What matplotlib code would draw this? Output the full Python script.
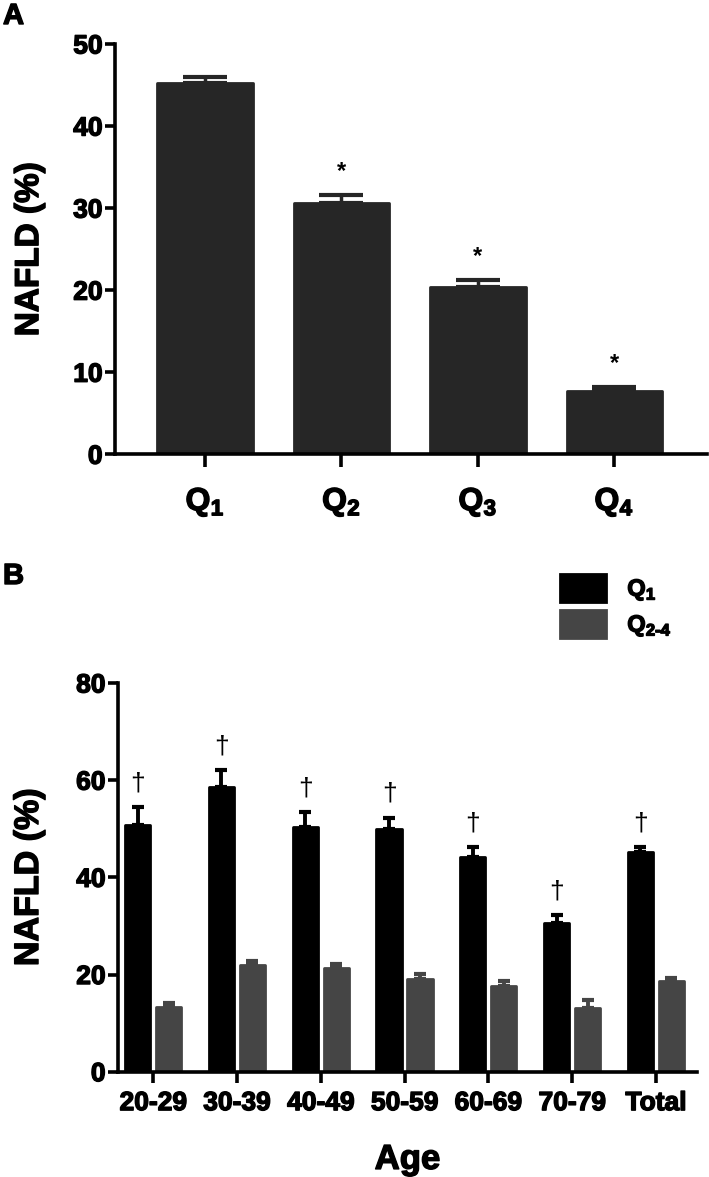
import numpy as np
import matplotlib
matplotlib.use('Agg')
import matplotlib.pyplot as plt
import matplotlib.patheffects as pe

plt.rcParams['font.family'] = ['Liberation Sans', 'DejaVu Sans']
plt.rcParams['font.weight'] = 'bold'
plt.rcParams['mathtext.fontset'] = 'custom'
plt.rcParams['mathtext.rm'] = 'Liberation Sans:bold'
plt.rcParams['mathtext.it'] = 'Liberation Sans:bold'
plt.rcParams['mathtext.bf'] = 'Liberation Sans:bold'

# panel A data
quart_labels = ['Q$_1$', 'Q$_2$', 'Q$_3$', 'Q$_4$']
quart_vals = [45.2, 30.6, 20.4, 7.75]
quart_err = [0.8, 1.0, 0.8, 0.4]
quart_sig = ['', '*', '*', '*']

# panel B data
age_groups = ['20-29', '30-39', '40-49', '50-59', '60-69', '70-79', 'Total']
q1_vals = [50.8, 58.6, 50.3, 49.9, 44.2, 30.7, 45.3]
q1_err = [3.7, 3.5, 3.2, 2.4, 2.0, 1.5, 1.0]
q24_vals = [13.4, 22.0, 21.3, 19.1, 17.6, 13.2, 18.7]
q24_err = [0.8, 0.8, 0.9, 1.0, 1.1, 1.5, 0.5]

fig = plt.figure(figsize=(7.09, 11.77), dpi=100)
heavy = [pe.withStroke(linewidth=1.0, foreground='black')]

def style_axes(ax):
    for s in ['top', 'right']:
        ax.spines[s].set_visible(False)
    for s in ['left', 'bottom']:
        ax.spines[s].set_linewidth(2.6)
    ax.tick_params(axis='both', width=2.6, direction='out')
    ax.tick_params(axis='y', length=7, pad=2, labelsize=19)

def thicken(ax):
    for t in ax.get_xticklabels() + ax.get_yticklabels():
        t.set_path_effects(heavy)
    ax.yaxis.label.set_path_effects(heavy)
    ax.xaxis.label.set_path_effects(heavy)

# ---- A ----
axA = fig.add_axes([115/709, 1-454.3/1177, (707-115)/709, (454.3-44)/1177])
x = np.arange(len(quart_vals))
axA.bar(x, quart_vals, width=0.70, color='#262626', edgecolor='#262626',
        linewidth=2, joinstyle='round', zorder=2)
axA.errorbar(x, quart_vals, yerr=[np.zeros(4), quart_err], fmt='none',
             ecolor='#262626', elinewidth=2.5, capsize=16, capthick=3, zorder=1)
for xi, v, e, s in zip(x, quart_vals, quart_err, quart_sig):
    if s:
        axA.annotate(s, (xi, v + e), xytext=(0, 17), textcoords='offset points',
                     ha='center', va='center', fontsize=17)
axA.set_xlim(-0.66, 3.68)
axA.set_ylim(0, 50)
axA.set_yticks([0, 10, 20, 30, 40, 50])
axA.set_xticks(x)
axA.set_xticklabels(quart_labels)
style_axes(axA)
axA.tick_params(axis='x', length=9, pad=14, labelsize=23)
axA.set_ylabel('NAFLD (%)', fontsize=24, fontweight='bold')
axA.yaxis.set_label_coords(-0.118, 0.5)
thicken(axA)
fig.text(3/709, 1-2/1177, 'A', fontsize=21, fontweight='bold', va='top', ha='left',
         path_effects=heavy)

# ---- B ----
axB = fig.add_axes([118/709, 1-1071.7/1177, (697-118)/709, (1071.7-683)/1177])
xb = np.arange(len(age_groups))
off = 0.185
w = 0.30
b1 = axB.bar(xb - off, q1_vals, width=w, color='#000000', edgecolor='#000000',
             linewidth=2, joinstyle='round', zorder=2, label='Q$_1$')
b2 = axB.bar(xb + off, q24_vals, width=w, color='#454545', edgecolor='#454545',
             linewidth=2, joinstyle='round', zorder=2, label='Q$_{2\\text{-}4}$')
axB.errorbar(xb - off, q1_vals, yerr=[np.zeros(7), q1_err], fmt='none',
             ecolor='#000000', elinewidth=2.8, capsize=4, capthick=3, zorder=1)
axB.errorbar(xb + off, q24_vals, yerr=[np.zeros(7), q24_err], fmt='none',
             ecolor='#454545', elinewidth=2.8, capsize=4, capthick=3, zorder=1)
for xi, v, e in zip(xb - off, q1_vals, q1_err):
    axB.annotate('\u2020', (xi, v + e), xytext=(0, 17), textcoords='offset points',
                 ha='center', va='center', fontsize=19, fontweight='normal')
axB.set_xlim(-0.42, 6.49)
axB.set_ylim(0, 80)
axB.set_yticks([0, 20, 40, 60, 80])
axB.set_xticks(xb)
axB.set_xticklabels(age_groups)
style_axes(axB)
axB.tick_params(axis='x', length=8, pad=6, labelsize=19)
axB.set_ylabel('NAFLD (%)', fontsize=24.5, fontweight='bold')
axB.yaxis.set_label_coords(-0.126, 0.5)
axB.set_xlabel('Age', fontsize=25, fontweight='bold', labelpad=20)
thicken(axB)
fig.text(3/709, 1-562/1177, 'B', fontsize=21, fontweight='bold', va='top', ha='left',
         path_effects=heavy)

leg = fig.legend(handles=[b1, b2], loc='upper left', bbox_to_anchor=(560/709, 1-574/1177),
                 frameon=False, fontsize=17, handlelength=1.95, handleheight=1.45,
                 labelspacing=0.3, handletextpad=0.9, borderpad=0, borderaxespad=0)
for t in leg.get_texts():
    t.set_path_effects(heavy)

fig.savefig('out.png', dpi=100)
